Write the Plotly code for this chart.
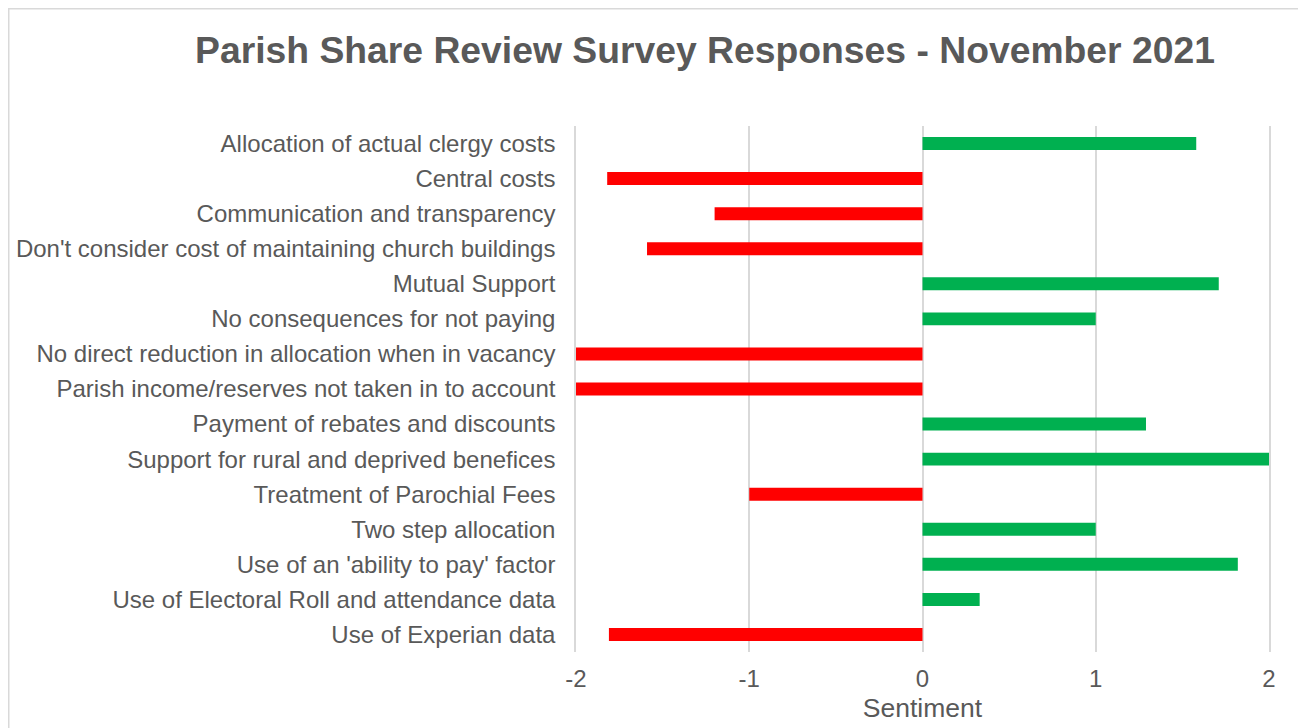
import plotly.graph_objects as go

categories = [
    "Allocation of actual clergy costs",
    "Central costs",
    "Communication and transparency",
    "Don't consider cost of maintaining church buildings",
    "Mutual Support",
    "No consequences for not paying",
    "No direct reduction in allocation when in vacancy",
    "Parish income/reserves not taken in to account",
    "Payment of rebates and discounts",
    "Support for rural and deprived benefices",
    "Treatment of Parochial Fees",
    "Two step allocation",
    "Use of an 'ability to pay' factor",
    "Use of Electoral Roll and attendance data",
    "Use of Experian data",
]
sentiment = [1.58, -1.82, -1.2, -1.59, 1.71, 1.0, -2.0, -2.0, 1.29, 2.0, -1.0, 1.0, 1.82, 0.33, -1.81]
tick_vals = [-2, -1, 0, 1, 2]
tick_text = ["-2", "-1", "0", "1", "2"]

GREEN = "#00B050"
RED = "#FF0000"
colors = [GREEN if v >= 0 else RED for v in sentiment]

fig = go.Figure(go.Bar(
    y=categories, x=sentiment, orientation="h",
    marker=dict(color=colors, line=dict(width=0)),
    width=0.37,
))

OFF = 8  # page body offset
W, H = 1306 - OFF, 728 - OFF
L, T = 576 - OFF, 126 - OFF
R = W - (1269 - OFF)
B = H - (652 - OFF)
pw, ph = W - L - R, H - T - B

def fx(x):  # figure pixel -> paper
    return (x - L) / pw

def fy(y):
    return (H - B - y) / ph

fig.add_shape(type="rect", xref="paper", yref="paper",
              x0=fx(0.75), x1=fx(1296), y0=fy(740), y1=fy(0.75),
              line=dict(color="#D9D9D9", width=1.5), fillcolor="rgba(0,0,0,0)", layer="below")

fig.update_layout(
    width=W, height=H,
    margin=dict(l=L, r=R, t=T, b=B, autoexpand=False),
    paper_bgcolor="white", plot_bgcolor="white",
    showlegend=False,
    font=dict(family="Liberation Sans, Arial, sans-serif", color="#595959", size=24),
    title=dict(text="<b>Parish Share Review Survey Responses - November 2021</b>",
               x=(705 - OFF) / W, xanchor="center", y=1 - (50 - OFF) / H, yanchor="middle",
               font=dict(size=37.3, color="#595959")),
)
fig.update_xaxes(range=[-2, 2], tickvals=tick_vals, ticktext=tick_text, showgrid=True,
                 gridcolor="#D9D9D9", gridwidth=1.5, automargin=False,
                 zeroline=True, zerolinecolor="#D9D9D9", zerolinewidth=1.5, showline=False,
                 tickfont=dict(size=24, color="#595959"), ticks="", ticklabelstandoff=10,
                 title=dict(text="Sentiment", font=dict(size=26.5, color="#595959"), standoff=7))
fig.update_yaxes(autorange="reversed", showgrid=False, ticks="", automargin=False,
                 showline=True, mirror=True, linecolor="#D9D9D9", linewidth=1.5,
                 tickfont=dict(size=24, color="#595959"), ticklabelstandoff=14)

fig.write_html("out.html")
